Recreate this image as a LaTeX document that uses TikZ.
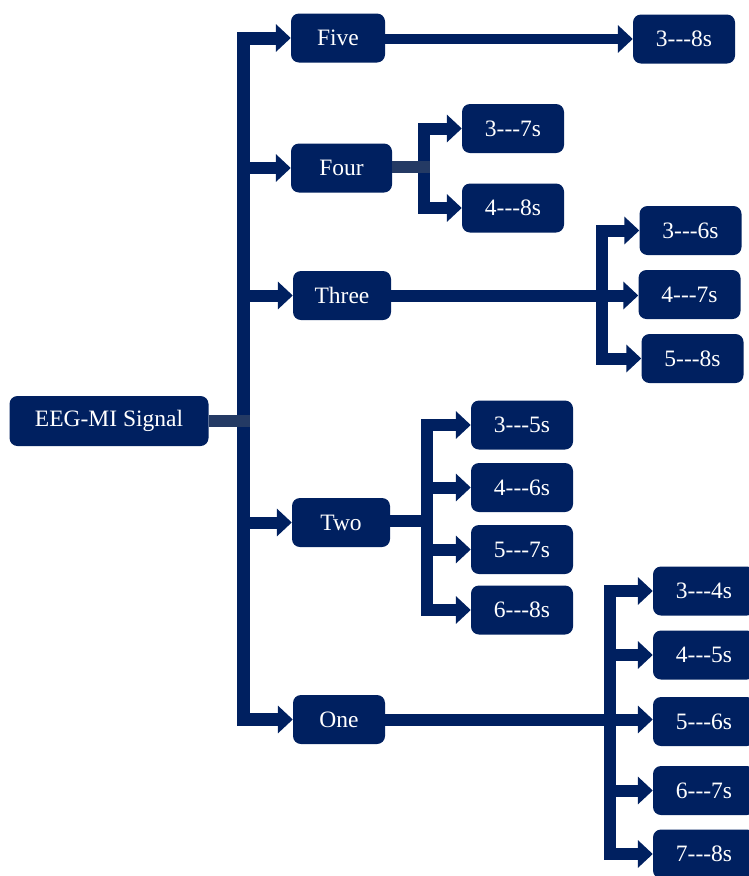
\documentclass[tikz,border=0pt]{standalone}
\usepackage{fontspec}
\setmainfont{Liberation Serif}
\usetikzlibrary{arrows.meta}

\definecolor{navy}{RGB}{0,32,96}
\definecolor{stubgray}{RGB}{36,58,100}

\tikzset{
  box/.style={fill=navy, text=white, rounded corners=8pt, inner sep=0pt,
    minimum height=49pt, font=\fontsize{23.5}{27}\selectfont},
  lvl/.style={box, minimum width=96pt},
  leaf/.style={box, minimum width=102pt},
  arr/.style={navy, line width=12pt, -{Triangle[length=15pt,width=27pt]}},
  link/.style={navy, line width=12pt},
  stub/.style={stubgray, line width=12.5pt}
}

\begin{document}
\begin{tikzpicture}[x=1pt,y=-1pt]
\useasboundingbox (0,0) rectangle (748,876);
% source and levels
\node[box, minimum width=199pt, minimum height=50pt] (sig) at (109,421) {EEG-MI Signal};
\node[lvl, minimum width=94pt] (five) at (338,38) {Five};
\node[lvl, minimum width=101pt] (four) at (341.5,168) {Four};
\node[lvl, minimum width=98pt] (three) at (342,295.5) {Three};
\node[lvl, minimum width=98pt] (two) at (341,522.5) {Two};
\node[lvl, minimum width=92pt] (one) at (339,719.5) {One};
% windows
\node[leaf] (w38) at (684,39) {3-{}-{}-8s};
\node[leaf] (w37) at (513,128.5) {3-{}-{}-7s};
\node[leaf] (w48) at (513,208) {4-{}-{}-8s};
\node[leaf] (w36) at (690.5,230.5) {3-{}-{}-6s};
\node[leaf] (w47) at (689.5,294.5) {4-{}-{}-7s};
\node[leaf] (w58) at (692.5,358.5) {5-{}-{}-8s};
\node[leaf] (w35) at (522,425) {3-{}-{}-5s};
\node[leaf] (w46) at (522,487.5) {4-{}-{}-6s};
\node[leaf] (w57) at (522,549.5) {5-{}-{}-7s};
\node[leaf] (w68) at (522,610) {6-{}-{}-8s};
\node[leaf] (w34) at (704,591) {3-{}-{}-4s};
\node[leaf] (w45) at (704,655) {4-{}-{}-5s};
\node[leaf] (w56) at (704,721.5) {5-{}-{}-6s};
\node[leaf] (w67) at (704,790.5) {6-{}-{}-7s};
\node[leaf] (w78) at (704,854) {7-{}-{}-8s};
% trunk
\coordinate (tk) at (243.5,421);
\draw[arr, line width=13pt] (tk) |- (five.west);
\draw[arr, line width=13pt] (tk) |- (one.west);
\draw[arr] (tk |- four) -- (four.west);
\draw[arr] (tk |- three) -- (three.west);
\draw[arr] (tk |- two) -- (two.west);
\draw[stub] (sig.east) -- ([xshift=6.5pt]tk);
% five
\draw[arr, line width=10pt] (five.east |- w38) -- (w38.west);
% four
\coordinate (fk) at (424,167);
\draw[arr] (fk) |- (w37.west);
\draw[arr] (fk) |- (w48.west);
\draw[stub] (four.east |- fk) -- ([xshift=6pt]fk);
% three
\coordinate (hk) at (602,295);
\draw[arr] (hk) |- (w36.west);
\draw[arr] (hk) |- (w58.west);
\draw[arr] (three.east) -- (three.east -| w47.west);
% two
\coordinate (wk) at (427,521);
\draw[arr] (wk) |- (w35.west);
\draw[arr] (wk) |- (w68.west);
\draw[arr] (wk |- w46) -- (w46.west);
\draw[arr] (wk |- w57) -- (w57.west);
\draw[link] (two.east |- wk) -- ([xshift=6pt]wk);
% one
\coordinate (ok) at (610,720);
\draw[arr] (ok) |- (w34.west);
\draw[arr] (ok) |- (w78.west);
\draw[arr] (ok |- w45) -- (w45.west);
\draw[arr] (ok |- w67) -- (w67.west);
\draw[arr] (one.east) -- (one.east -| w56.west);
\end{tikzpicture}
\end{document}
